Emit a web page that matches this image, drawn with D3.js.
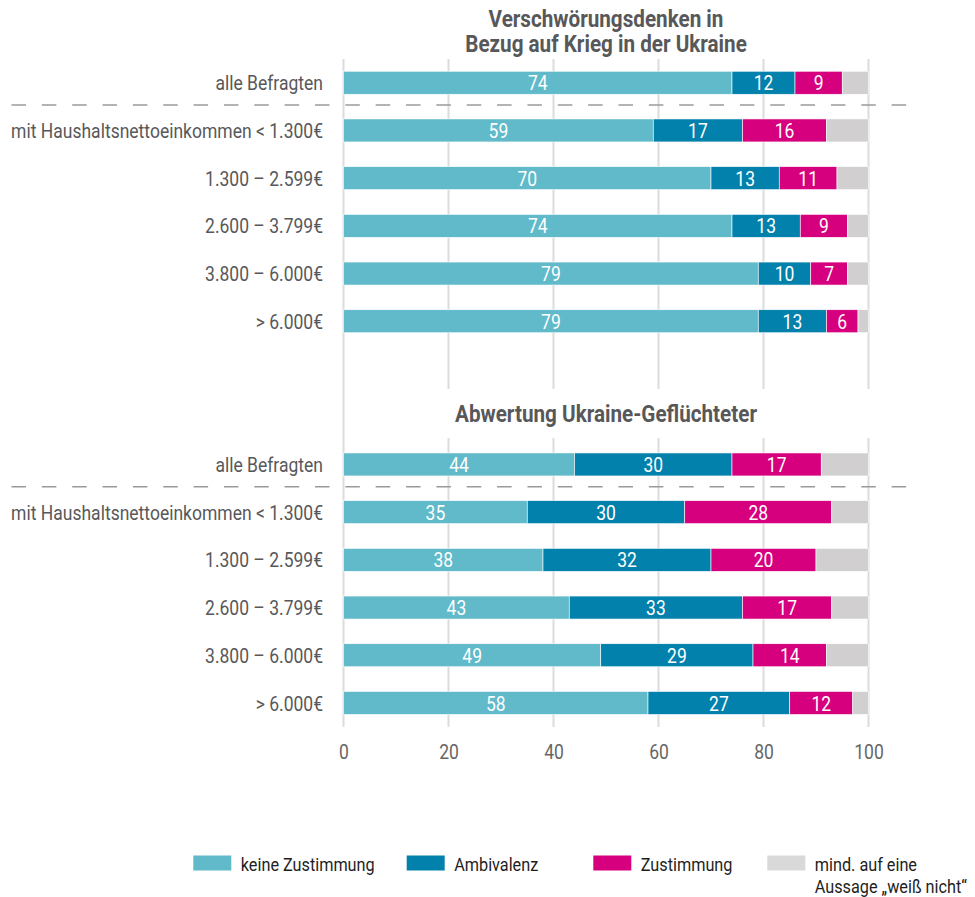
<!DOCTYPE html>
<html>
<head>
<meta charset="utf-8">
<script src="https://cdn.jsdelivr.net/npm/d3@7"></script>
<style>
  html, body { margin: 0; padding: 0; background: #fff; }
  svg { display: block; }
  text { font-family: Roboto, "Open Sans", sans-serif; }
</style>
</head>
<body>
<svg id="chart" width="975" height="897"></svg>
<script>
// ---------- data ----------
const categories = ["alle Befragten", "mit Haushaltsnettoeinkommen < 1.300€", "1.300 – 2.599€", "2.600 – 3.799€", "3.800 – 6.000€", "> 6.000€"];
const seriesNames = ["keine Zustimmung", "Ambivalenz", "Zustimmung", "mind. auf eine Aussage „weiß nicht“"];
const legendLines = [["keine Zustimmung"], ["Ambivalenz"], ["Zustimmung"], ["mind. auf eine", "Aussage „weiß nicht“"]];
const seriesColors = ["#60BACA", "#0281AC", "#D6007E", "#D1CFD0"];
const legendColors = ["#60BACA", "#0281AC", "#D6007E", "#D9D9D9"];

const panelTitles = [["Verschwörungsdenken in", "Bezug auf Krieg in der Ukraine"], ["Abwertung Ukraine-Geflüchteter"]];

// Panel 1: Verschwörungsdenken in Bezug auf Krieg in der Ukraine
const p1KeineZustimmung = [74, 59, 70, 74, 79, 79];
const p1Ambivalenz      = [12, 17, 13, 13, 10, 13];
const p1Zustimmung      = [9, 16, 11, 9, 7, 6];
const p1WeissNicht      = [5, 8, 6, 4, 4, 2];

// Panel 2: Abwertung Ukraine-Geflüchteter
const p2KeineZustimmung = [44, 35, 38, 43, 49, 58];
const p2Ambivalenz      = [30, 30, 32, 33, 29, 27];
const p2Zustimmung      = [17, 28, 20, 17, 14, 12];
const p2WeissNicht      = [9, 7, 10, 7, 8, 3];

const xTicks = [0, 20, 40, 60, 80, 100];

// ---------- helpers ----------
const svg = d3.select("#chart");

function measure(str, size, weight) {
  const t = svg.append("text").attr("font-size", size).attr("font-weight", weight).text(str);
  const w = t.node().getComputedTextLength();
  t.remove();
  return w;
}
// horizontal condensing factors so the regular sans matches the condensed original
const sxLabel  = 312 / measure("mit Haushaltsnettoeinkommen < 1.300€", 21, 400);
const sxLegend = 134 / measure("keine Zustimmung", 18.5, 400);
const sxTitle  = 302 / measure("Abwertung Ukraine-Geflüchteter", 23, 700);

function stext(parent, x, y, str, o) {
  const g = parent.append("g").attr("transform", `translate(${x},${y})`);
  const t = g.append("text")
    .attr("transform", `scale(${o.sx},1)`)
    .attr("text-anchor", o.anchor || "start")
    .attr("font-size", o.size)
    .attr("font-weight", o.weight || 400)
    .attr("fill", o.fill)
    .attr("dy", o.dy || null)
    .text(str);
  return t;
}

// ---------- layout ----------
const x = d3.scaleLinear().domain([0, 100]).range([343.5, 868.5]);
const step = 47.7;
const barH = 23;
const pad = 1 - barH / step;

const panels = [
  { title: panelTitles[0], series: [p1KeineZustimmung, p1Ambivalenz, p1Zustimmung, p1WeissNicht], y0: 58.9, gridTop: 59, gridBottom: 389, titleY: [26.7, 51.7] },
  { title: panelTitles[1], series: [p2KeineZustimmung, p2Ambivalenz, p2Zustimmung, p2WeissNicht], y0: 440.6, gridTop: 438, gridBottom: 727, titleY: [421.7] }
];

// continuous 0 line
svg.append("line")
  .attr("x1", x(0)).attr("x2", x(0))
  .attr("y1", panels[0].gridTop).attr("y2", panels[1].gridBottom)
  .attr("stroke", "#DCDCDC").attr("stroke-width", 2);

panels.forEach((p) => {
  const y = d3.scaleBand()
    .domain(categories)
    .range([p.y0, p.y0 + step * categories.length])
    .paddingInner(pad).paddingOuter(pad / 2);

  // grid
  svg.append("g").selectAll("line")
    .data(xTicks.filter(t => t !== 0))
    .join("line")
    .attr("x1", d => x(d)).attr("x2", d => x(d))
    .attr("y1", p.gridTop).attr("y2", p.gridBottom)
    .attr("stroke", "#DCDCDC").attr("stroke-width", 2);

  // title
  p.title.forEach((line, i) => {
    stext(svg, (x(0) + x(100)) / 2, p.titleY[i], line,
      { sx: sxTitle, anchor: "middle", size: 23, weight: 700, fill: "#58585A" });
  });

  // stacked rows
  const rows = categories.map((c, i) => {
    let acc = 0;
    return p.series.map((s, si) => {
      const seg = { cat: c, si, v: s[i], x0: acc, x1: acc + s[i] };
      acc += s[i];
      return seg;
    });
  }).flat();

  const g = svg.append("g");
  g.selectAll("rect")
    .data(rows)
    .join("rect")
    .attr("x", d => x(d.x0))
    .attr("width", d => x(d.x1) - x(d.x0))
    .attr("y", d => y(d.cat))
    .attr("height", y.bandwidth())
    .attr("fill", d => seriesColors[d.si])
    .attr("stroke", "#fff")
    .attr("stroke-width", 0.6);

  rows.filter(d => d.si < 3).forEach(d => {
    stext(g, (x(d.x0) + x(d.x1)) / 2, y(d.cat) + y.bandwidth() / 2, d.v,
      { sx: sxLabel, anchor: "middle", size: 21, weight: 400, fill: "#fff", dy: "0.36em" });
  });

  // category labels
  categories.forEach(c => {
    stext(svg, 323, y(c) + y.bandwidth() / 2, c,
      { sx: sxLabel, anchor: "end", size: 21, weight: 400, fill: "#58585A", dy: "0.36em" });
  });

  // dashed separator
  const sepY = y(categories[0]) + y.bandwidth() + (step - barH) / 2 - 1.5;
  svg.append("line")
    .attr("x1", 11.5).attr("x2", 907)
    .attr("y1", sepY).attr("y2", sepY)
    .attr("stroke", "#9A9A9A").attr("stroke-width", 1.5)
    .attr("stroke-dasharray", "14.5,15.85");
});

// x axis tick labels
const axis = d3.axisBottom(x).tickValues(xTicks).tickSize(0).tickPadding(0);
const ag = svg.append("g").attr("transform", "translate(0,744)").call(axis);
ag.select(".domain").remove();
ag.selectAll("text")
  .attr("font-family", "Roboto, sans-serif")
  .attr("font-size", 21)
  .attr("font-weight", 400)
  .attr("fill", "#666")
  .attr("transform", `scale(${sxLabel},1)`);

// legend
const legendX = [193.3, 406.7, 593.3, 767.3];
const lg = svg.append("g");
seriesNames.forEach((n, i) => {
  lg.append("rect")
    .attr("x", legendX[i]).attr("y", 855.5)
    .attr("width", 38).attr("height", 15)
    .attr("fill", legendColors[i]);
  legendLines[i].forEach((line, li) => {
    stext(lg, legendX[i] + 47.5, 870.7 + li * 22.6, line,
      { sx: sxLegend, size: 18.5, fill: "#1E1E1E" });
  });
});
</script>
</body>
</html>
